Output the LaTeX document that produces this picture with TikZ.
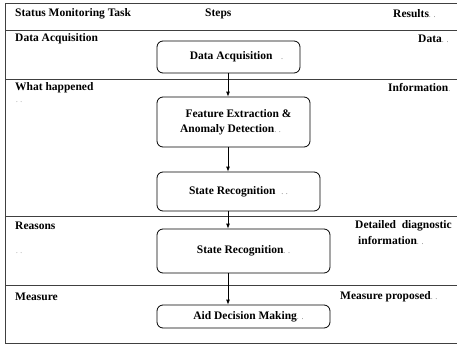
\documentclass[tikz,border=0pt]{standalone}
\usepackage{fontspec}
\setmainfont{Liberation Serif}
\usetikzlibrary{arrows.meta}
\newcommand\pmk[1]{{\mdseries\fontsize{8}{9}\selectfont\color{black!55}#1}}
\begin{document}
\begin{tikzpicture}[x=1pt,y=-1pt,
  lbl/.style={anchor=west,inner sep=0pt,font=\fontsize{11.5}{13}\selectfont\bfseries},
  dots/.style={anchor=west,inner sep=0pt,font=\fontsize{7}{8}\selectfont,text=gray},
  stepbox/.style={draw=black,line width=0.8pt,rounded corners=6pt,align=center,
    font=\fontsize{11.5}{15}\selectfont\bfseries,inner sep=0pt},
  frame/.style={draw=black!75,line width=0.9pt},
  flow/.style={draw=black,line width=0.8pt,-{Latex[length=5pt,width=4pt]}}]
\useasboundingbox (0,0) rectangle (457,345);
\fill[white] (0,0) rectangle (457,345);
\clip (0,0) rectangle (457,345);
% frame and lane separators
\draw[frame] (470,3) -- (5,3) -- (5,343) -- (470,343);
\draw[frame] (5,30.5) -- (470,30.5);
\draw[frame] (5,79) -- (470,79);
\draw[frame] (5,216.5) -- (470,216.5);
\draw[frame] (5,285) -- (470,285);
% header
\node[lbl] (h1) at (15,14) {Status Monitoring Task};
\node[lbl] (h2) at (205,14) {Steps};
\node[lbl] (h3) at (393,14) {Results\pmk{. .}};
% left column
\node[lbl] (l1) at (15,39) {Data Acquisition};
\node[lbl] (l2) at (15,88) {What happened};
\node[dots] (l2d) at (16,102) {. .};
\node[lbl] (l3) at (15,226) {Reasons};
\node[dots] (l3d) at (16,253) {. .};
\node[lbl] (l4) at (15,297) {Measure};
% right column
\node[lbl] (r1) at (418,39) {Data\pmk{. .}};
\node[lbl] (r2) at (388,88) {Information\pmk{ .}};
\node[lbl] (r3) at (355,226) {Detailed\ \ diagnostic};
\node[lbl] (r3b) at (358,241) {information\pmk{ . .}};
\node[lbl] (r4) at (340,297) {Measure proposed\pmk{. .}};
% step boxes
\node[stepbox,minimum width=143pt,minimum height=32pt] (b1) at (228.5,57) {\hspace*{16pt}Data Acquisition\ \ \ \pmk{.}};
\node[stepbox,minimum width=153pt,minimum height=50pt] (b2) at (233.5,122) {\hspace*{10pt}Feature Extraction \&\\Anomaly Detection\pmk{. .}\hspace*{6pt}};
\node[stepbox,minimum width=163pt,minimum height=39pt] (b3) at (238.5,191.5) {State Recognition\ \ \pmk{. .}};
\node[stepbox,minimum width=173pt,minimum height=44pt] (b4) at (243.5,251) {State Recognition\pmk{. .}};
\node[stepbox,minimum width=173pt,minimum height=23pt] (b5) at (243.5,316.5) {\hspace*{10pt}Aid Decision Making\pmk{. .}};
% connectors
\coordinate (ax) at (228,0);
\draw[flow] (ax |- b1.south) -- (ax |- b2.north);
\draw[flow] (ax |- b2.south) -- (ax |- b3.north);
\draw[flow] (ax |- b3.south) -- (ax |- b4.north);
\draw[flow] (ax |- b4.south) -- (ax |- b5.north);
\end{tikzpicture}
\end{document}
